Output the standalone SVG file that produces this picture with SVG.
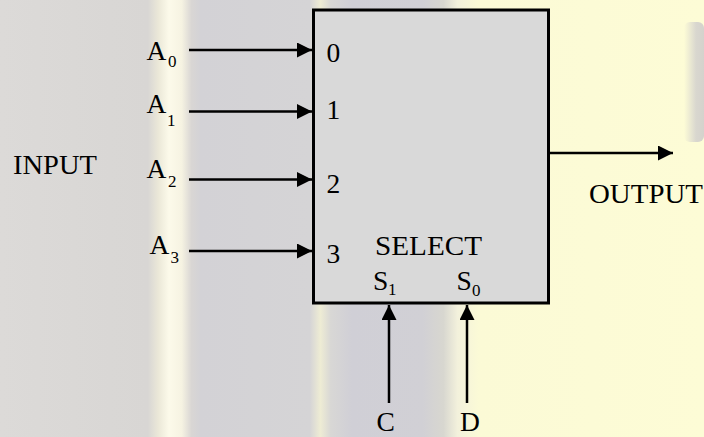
<svg xmlns="http://www.w3.org/2000/svg" width="704" height="437" viewBox="0 0 704 437">
  <style>
    .t { font-family: "Liberation Serif", "Times New Roman", serif; font-size: 27.5px; fill: #000; }
    .s { font-family: "Liberation Serif", "Times New Roman", serif; font-size: 17px; fill: #000; }
    .w { stroke: #000; stroke-width: 2.5; fill: none; }
  </style>
  <defs>
    <marker id="ah" markerUnits="userSpaceOnUse" markerWidth="16" markerHeight="16" refX="15" refY="7.5" orient="auto">
      <path d="M0,0 L15,7.5 L0,15 Z" fill="#000"/>
    </marker>
    <linearGradient id="bg" x1="0" y1="0" x2="704" y2="0" gradientUnits="userSpaceOnUse">
      <stop offset="0" stop-color="#dcdad8"/>
      <stop offset="0.21" stop-color="#d8d6d4"/>
      <stop offset="0.225" stop-color="#ebe8d8"/>
      <stop offset="0.24" stop-color="#fcfaea"/>
      <stop offset="0.258" stop-color="#f6f3e2"/>
      <stop offset="0.272" stop-color="#d9d6d4"/>
      <stop offset="0.285" stop-color="#d3d2d6"/>
      <stop offset="0.44" stop-color="#d5d4d6"/>
      <stop offset="0.455" stop-color="#eeecd4"/>
      <stop offset="0.47" stop-color="#d8d7d5"/>
      <stop offset="0.5" stop-color="#d0cfd6"/>
      <stop offset="0.6" stop-color="#d1d0d5"/>
      <stop offset="0.63" stop-color="#d8d7d0"/>
      <stop offset="0.65" stop-color="#f3f1dc"/>
      <stop offset="0.68" stop-color="#fbfad6"/>
      <stop offset="1" stop-color="#fdfcd6"/>
    </linearGradient>
    <linearGradient id="blob" x1="0" y1="0" x2="1" y2="0">
      <stop offset="0" stop-color="#fdfcd6"/>
      <stop offset="0.6" stop-color="#d9d7cf"/>
      <stop offset="1" stop-color="#d4d2cc"/>
    </linearGradient>
  </defs>

  <rect x="0" y="0" width="704" height="437" fill="url(#bg)"/>
  <rect x="684" y="22" width="20" height="120" rx="6" fill="url(#blob)"/>

  <g id="mux">
    <rect x="313.5" y="10" width="235" height="293" fill="#d9d9d9" stroke="#000" stroke-width="3"/>
    <text class="t" x="326.5" y="61.5">0</text>
    <text class="t" x="326.5" y="118.5">1</text>
    <text class="t" x="326.5" y="193">2</text>
    <text class="t" x="326.5" y="263">3</text>
    <text class="t" x="375" y="255" textLength="107" lengthAdjust="spacingAndGlyphs">SELECT</text>
    <text class="t" x="373" y="290">S</text><text class="s" x="388" y="295">1</text>
    <text class="t" x="456.5" y="290">S</text><text class="s" x="472" y="296">0</text>
  </g>

  <g id="labels">
    <text id="input" class="t" x="13" y="174" textLength="84" lengthAdjust="spacingAndGlyphs">INPUT</text>
    <g id="a0"><text class="t" x="146.5" y="60">A</text><text class="s" x="168" y="67.3">0</text></g>
    <g id="a1"><text class="t" x="146.5" y="113">A</text><text class="s" x="167" y="126">1</text></g>
    <g id="a2"><text class="t" x="146.5" y="178.3">A</text><text class="s" x="168" y="186.7">2</text></g>
    <g id="a3"><text class="t" x="149.5" y="254">A</text><text class="s" x="170.5" y="263">3</text></g>
    <text id="c" class="t" x="376.5" y="431">C</text>
    <text id="d" class="t" x="460" y="431">D</text>
    <text id="output" class="t" x="589" y="203" textLength="114" lengthAdjust="spacingAndGlyphs">OUTPUT</text>
  </g>

  <g id="connectors">
    <line class="w" x1="189" y1="50" x2="312" y2="50" marker-end="url(#ah)"/>
    <line class="w" x1="189" y1="111.5" x2="312" y2="111.5" marker-end="url(#ah)"/>
    <line class="w" x1="189" y1="179.5" x2="312" y2="179.5" marker-end="url(#ah)"/>
    <line class="w" x1="189" y1="251" x2="312" y2="251" marker-end="url(#ah)"/>
    <line class="w" x1="550" y1="153" x2="673" y2="153" marker-end="url(#ah)"/>
    <line class="w" x1="389" y1="403" x2="389" y2="305" marker-end="url(#ah)"/>
    <line class="w" x1="467" y1="403" x2="467" y2="305" marker-end="url(#ah)"/>
  </g>
</svg>
